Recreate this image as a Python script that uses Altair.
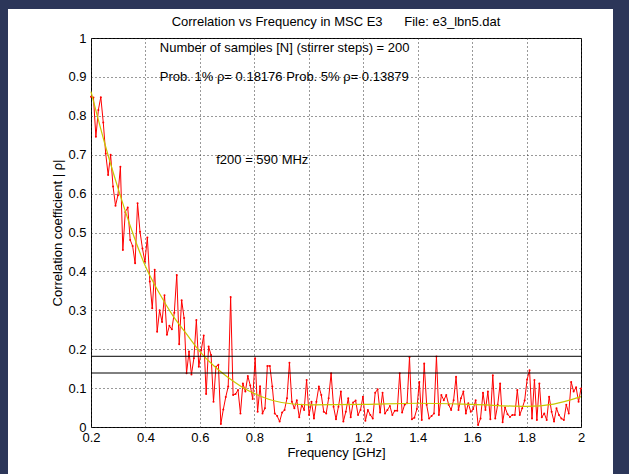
import altair as alt
import pandas as pd

# ---------------- data ----------------
freq_start = 0.2
freq_step = 0.009

rho = [
    0.849, 0.847, 0.746, 0.815, 0.848, 0.783, 0.703, 0.648, 0.700, 0.618,
    0.569, 0.596, 0.669, 0.455, 0.553, 0.564, 0.481, 0.465, 0.421, 0.575,
    0.502, 0.459, 0.425, 0.487, 0.374, 0.305, 0.404, 0.245, 0.300, 0.270,
    0.339, 0.237, 0.260, 0.251, 0.294, 0.391, 0.213, 0.326, 0.280, 0.138,
    0.194, 0.135, 0.177, 0.275, 0.155, 0.198, 0.235, 0.085, 0.207, 0.185,
    0.065, 0.155, 0.160, 0.008, 0.045, 0.077, 0.104, 0.334, 0.082, 0.085,
    0.095, 0.035, 0.112, 0.091, 0.131, 0.107, 0.072, 0.177, 0.039, 0.105,
    0.035, 0.048, 0.157, 0.157, 0.104, 0.035, 0.028, 0.014, 0.037, 0.044,
    0.074, 0.165, 0.065, 0.048, 0.069, 0.025, 0.057, 0.044, 0.121, 0.031,
    0.065, 0.022, 0.065, 0.104, 0.082, 0.039, 0.035, 0.074, 0.138, 0.052,
    0.020, 0.052, 0.091, 0.014, 0.039, 0.074, 0.025, 0.063, 0.068, 0.031,
    0.044, 0.078, 0.016, 0.044, 0.031, 0.022, 0.088, 0.097, 0.037, 0.088,
    0.035, 0.044, 0.054, 0.031, 0.042, 0.042, 0.138, 0.037, 0.057, 0.061,
    0.179, 0.020, 0.024, 0.046, 0.116, 0.018, 0.163, 0.057, 0.022, 0.028,
    0.035, 0.181, 0.031, 0.082, 0.069, 0.082, 0.057, 0.044, 0.069, 0.129,
    0.044, 0.074, 0.091, 0.035, 0.061, 0.039, 0.046, 0.069, 0.005, 0.022,
    0.088, 0.044, 0.091, 0.020, 0.133, 0.022, 0.057, 0.112, 0.012, 0.050,
    0.033, 0.026, 0.031, 0.031, 0.095, 0.031, 0.048, 0.068, 0.122, 0.146,
    0.022, 0.121, 0.018, 0.112, 0.025, 0.035, 0.018, 0.078, 0.039, 0.014,
    0.048, 0.031, 0.022, 0.018, 0.057, 0.035, 0.116, 0.091, 0.102, 0.065,
    0.099,
]
freq = [round(freq_start + freq_step * i, 4) for i in range(len(rho))]

fit_freq = [0.2, 0.25, 0.3, 0.35, 0.4, 0.45, 0.5, 0.55, 0.6, 0.65, 0.7, 0.75,
            0.8, 0.9, 1.0, 1.2, 1.4, 1.6, 1.8, 1.9, 2.0]
fit_rho = [0.862, 0.73, 0.612, 0.505, 0.413, 0.345, 0.287, 0.24, 0.194, 0.158,
           0.129, 0.105, 0.086, 0.063, 0.057, 0.058, 0.061, 0.058, 0.053, 0.059,
           0.078]

thresholds = [0.18176, 0.13879]

x_ticks = [0.2, 0.4, 0.6, 0.8, 1.0, 1.2, 1.4, 1.6, 1.8, 2.0]
y_ticks = [0, 0.1, 0.2, 0.3, 0.4, 0.5, 0.6, 0.7, 0.8, 0.9, 1.0]

notes_text = [
    "Number of samples [N] (stirrer steps) = 200",
    "Prob. 1% \u03c1= 0.18176 Prob. 5% \u03c1= 0.13879",
    "f200 = 590 MHz",
]
notes_x = [0.453, 0.453, 0.66]
notes_y = [0.974, 0.90, 0.686]

title_text = ["Correlation vs Frequency in MSC E3\u00a0\u00a0\u00a0\u00a0\u00a0 File: e3_lbn5.dat"]
x_title = "Frequency [GHz]"
y_title = "Correlation coefficient | \u03c1|"

# ---------------- styling ----------------
FONT = "Liberation Sans"
NAVY = "#2c3659"

red_df = pd.DataFrame({"freq": freq, "rho": rho})
fit_df = pd.DataFrame({"freq": fit_freq, "rho": fit_rho})
thr_df = pd.DataFrame({"thr": thresholds})
notes_df = pd.DataFrame({"x": notes_x, "y": notes_y, "t": notes_text})
title_df = pd.DataFrame({"t": title_text})

xs = alt.Scale(domain=[0.2, 2.0], nice=False, zero=False)
ys = alt.Scale(domain=[0, 1], nice=False, zero=False)

common_axis = dict(
    grid=True, gridColor="#333333", gridDash=[1, 3], gridWidth=1, gridOpacity=1,
    domain=False, ticks=False, labelFont=FONT, labelFontSize=13,
    labelColor="black", titleFont=FONT, titleFontSize=13,
    titleFontWeight="normal", titleColor="black",
)
xaxis = alt.Axis(values=x_ticks, format="~g", title=x_title, labelPadding=4,
                 titlePadding=2, labelFlush=False, labelOverlap=False, **common_axis)
yaxis = alt.Axis(values=y_ticks, format="~g", title=y_title, labelPadding=5,
                 titlePadding=3, labelFlush=False, labelOverlap=False, **common_axis)


def X(field):
    return alt.X(field, type="quantitative", scale=xs, axis=xaxis)


def Y(field):
    return alt.Y(field, type="quantitative", scale=ys, axis=yaxis)


one = pd.DataFrame({"k": [0]})
strip_left = alt.Chart(one).mark_rect(color=NAVY).encode(
    x=alt.value(-91), x2=alt.value(-83), y=alt.value(-38), y2=alt.value(436))
strip_top = alt.Chart(one).mark_rect(color=NAVY).encode(
    x=alt.value(-91), x2=alt.value(538), y=alt.value(-38), y2=alt.value(-29))
strip_right = alt.Chart(one).mark_rect(color=NAVY).encode(
    x=alt.value(522), x2=alt.value(538), y=alt.value(-38), y2=alt.value(436))

red = alt.Chart(red_df).mark_line(
    color="#ff0000", strokeWidth=1,
    point=alt.OverlayMarkDef(color="#ff0000", size=4, filled=True),
).encode(x=X("freq"), y=Y("rho"))

fit = alt.Chart(fit_df).mark_line(
    color="#c8c800", strokeWidth=1.2, interpolate="monotone"
).encode(x=X("freq"), y=Y("rho"))

rules = alt.Chart(thr_df).mark_rule(color="black", strokeWidth=1).encode(y=Y("thr"))

notes = alt.Chart(notes_df).mark_text(
    align="left", baseline="middle", font=FONT, fontSize=13, color="black"
).encode(x=X("x"), y=Y("y"), text="t:N")

title = alt.Chart(title_df).mark_text(
    align="center", baseline="middle", font=FONT, fontSize=13, color="black"
).encode(x=alt.value(245), y=alt.value(-16), text="t:N")

chart = alt.layer(red, fit, rules, notes, title, strip_left, strip_top, strip_right).properties(
    width=490, height=389,
    padding={"left": 91, "top": 38, "right": 48, "bottom": 47},
    autosize=alt.AutoSizeParams(type="none"),
    background="white",
).configure_view(stroke="black", strokeWidth=1, fill="white")

chart.save("out.html", embed_options={"renderer": "svg", "actions": False})
